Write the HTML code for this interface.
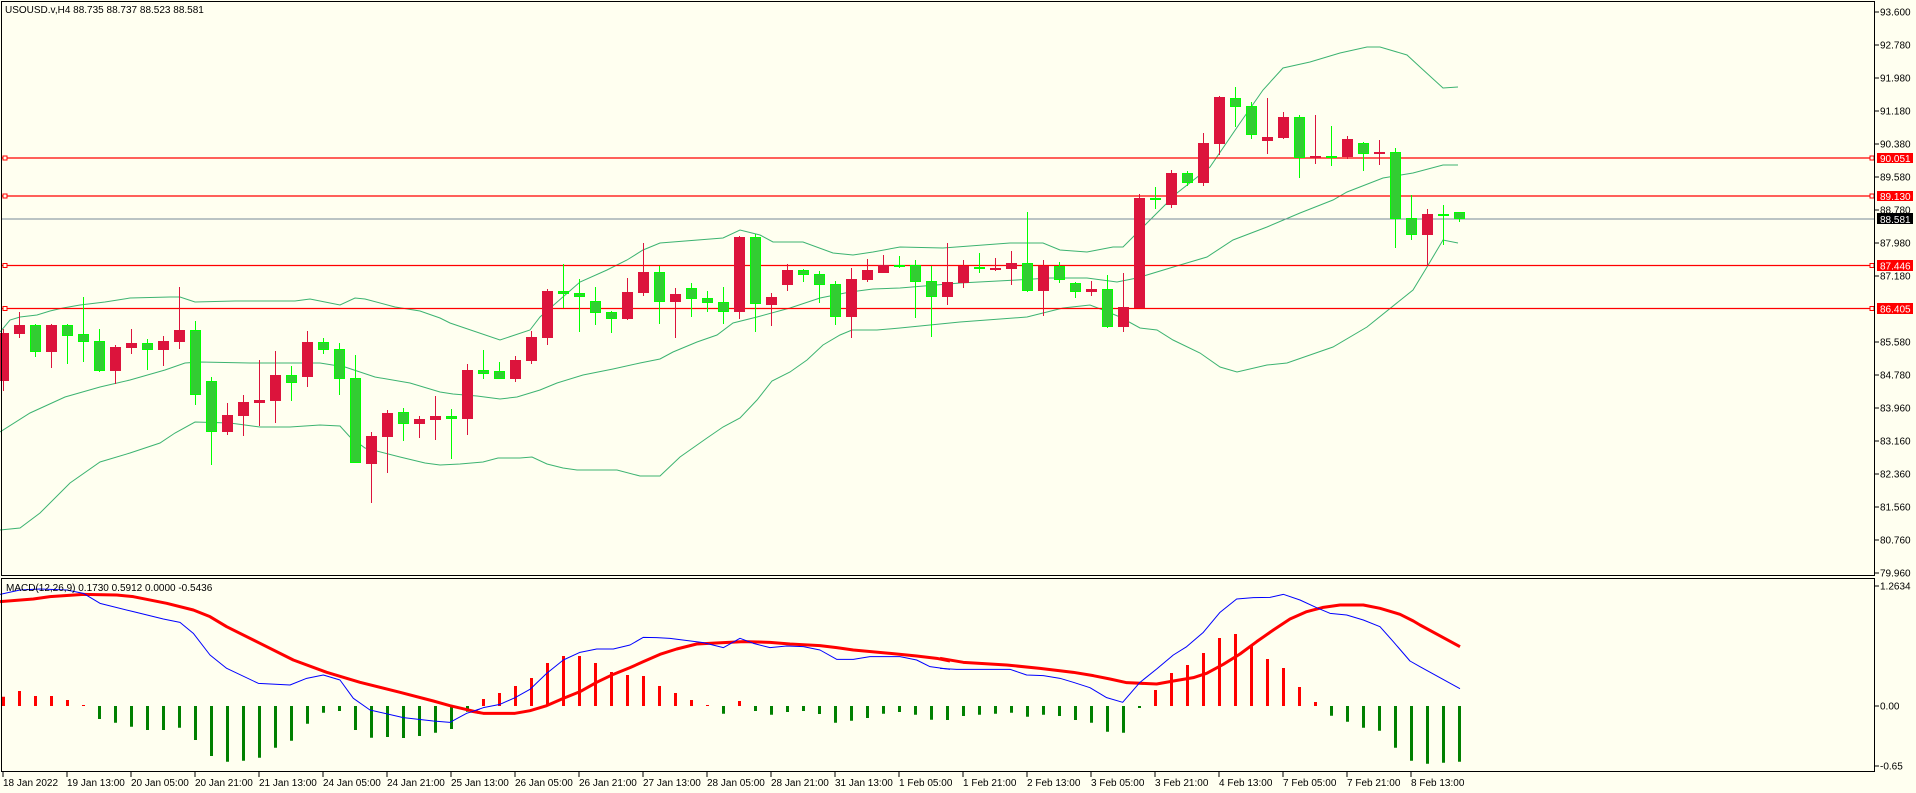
<!DOCTYPE html>
<html><head><meta charset="utf-8"><style>
html,body{margin:0;padding:0;background:#FFFFF0;}
svg{display:block;font-family:"Liberation Sans",sans-serif;}
</style></head><body>
<svg width="1916" height="793" viewBox="0 0 1916 793" xmlns="http://www.w3.org/2000/svg">
<rect width="1916" height="793" fill="#FFFFF0"/>
<!-- Bollinger -->
<g fill="none" stroke="#3CB371" stroke-width="1">
<polyline points="0,332 10,320 20,317 37,315 50,311 63,308 80,305 105,302 130,298 170,297 180,297 195,302 235,301 295,301 310,299 325,302 340,305 355,298 365,299 395,307 420,311 440,318 450,323 500,340 530,330 540,317 580,282 607,270 627,260 643,250 660,243 723,238 740,230 760,235 773,242 803,242 833,253 853,255 873,252 900,247 943,248 1010,243 1043,243 1060,250 1087,252 1113,247 1123,247 1143,227 1177,193 1210,167 1240,123 1263,90 1283,68 1310,62 1340,53 1367,47 1380,47 1407,55 1420,67 1443,88 1458,87"/>
<polyline points="0,432 30,413 65,397 100,387 130,380 165,370 185,363 200,362 250,363 320,363 345,367 375,377 410,383 440,392 453,394 477,396 500,399 517,397 540,390 557,383 583,375 613,369 640,363 660,359 673,352 697,342 717,335 733,323 757,317 790,308 820,298 850,292 873,289 900,288 960,283 1017,280 1050,278 1087,278 1117,282 1137,278 1180,265 1207,257 1233,240 1267,227 1300,213 1333,200 1347,192 1383,178 1413,173 1443,165 1458,165"/>
<polyline points="0,530 20,528 40,513 70,483 100,462 130,453 160,443 175,433 195,422 230,423 260,427 290,427 320,425 340,426 350,437 365,448 400,457 425,463 440,465 460,464 483,462 498,458 520,458 532,457 547,464 563,468 577,470 617,470 640,476 660,476 680,457 707,438 723,427 740,418 757,400 772,381 790,372 807,360 823,345 840,335 852,330 877,330 900,328 960,322 1027,317 1063,308 1090,305 1103,310 1120,317 1140,328 1157,330 1173,340 1200,353 1220,367 1237,372 1267,365 1287,363 1333,347 1367,327 1413,290 1427,267 1443,240 1458,243"/>
</g>
<!-- horizontal lines -->
<g stroke="#FF0000" stroke-width="1.3">
<line x1="2" y1="158" x2="1875" y2="158"/><line x1="2" y1="196" x2="1875" y2="196"/>
<line x1="2" y1="265.5" x2="1875" y2="265.5"/><line x1="2" y1="308.5" x2="1875" y2="308.5"/>
</g>
<line x1="2" y1="219" x2="1875" y2="219" stroke="#778899" stroke-width="1"/>
<g fill="#FFFFF0" stroke="#FF0000" stroke-width="1">
<rect x="3" y="156" width="4" height="4"/><rect x="3" y="194" width="4" height="4"/><rect x="3" y="263.5" width="4" height="4"/><rect x="3" y="306.5" width="4" height="4"/>
<rect x="1870" y="156" width="4" height="4"/><rect x="1870" y="194" width="4" height="4"/><rect x="1870" y="263.5" width="4" height="4"/><rect x="1870" y="306.5" width="4" height="4"/>
</g>
<!-- candles -->
<g id="c">
<g stroke="#DC143C" stroke-width="1">
<path d="M3.5 329V391M19.5 312V338M51.5 324V368M115.5 345V384M131.5 329V354M163.5 336V366M179.5 287V349M227.5 403V435M243.5 395V436M259.5 360V426M275.5 351V423M307.5 331V387M371.5 432V503M387.5 410V473M419.5 416V438M435.5 396V440M467.5 364V435M515.5 356V382M531.5 331V364M547.5 289V345M627.5 278V320M643.5 243V296M675.5 288V338M739.5 236V319M771.5 293V326M787.5 264V291M851.5 268V338M867.5 259V282M883.5 255V273M947.5 243V305M963.5 260V288M995.5 258V271M1011.5 251V285M1043.5 260V316M1091.5 281V296M1123.5 273V332M1139.5 194V308M1171.5 170V208M1203.5 133V186M1219.5 96V155M1267.5 98V154M1283.5 112V139M1315.5 115V164M1347.5 136V159M1379.5 140V165M1427.5 209V266"/>
</g>
<g stroke="#00FF00" stroke-width="1">
<path d="M35.5 324V357M67.5 324V364M83.5 297V362M99.5 329V372M147.5 339V370M195.5 321V405M211.5 377V465M291.5 366V401M323.5 338V354M339.5 343V395M355.5 355V463M403.5 408V441M451.5 409V459M483.5 350V379M499.5 362V379M563.5 264V308M579.5 279V332M595.5 287V325M611.5 311V333M659.5 266V324M691.5 283V317M707.5 291V312M723.5 287V324M755.5 234V332M803.5 269V282M819.5 271V303M835.5 281V325M899.5 256V268M915.5 260V318M931.5 266V337M979.5 253V273M1027.5 212V292M1059.5 262V283M1075.5 282V298M1107.5 275V328M1155.5 187V209M1187.5 171V186M1235.5 87V127M1251.5 102V139M1299.5 115V178M1331.5 126V166M1363.5 142V171M1395.5 148V248M1411.5 195V240M1443.5 205V245M1459.5 212V222"/>
</g>
<g fill="#DC143C">
<rect x="-2" y="333" width="11" height="48"/><rect x="14" y="325" width="11" height="9"/><rect x="46" y="325" width="11" height="27"/><rect x="110" y="347" width="11" height="24"/><rect x="126" y="343" width="11" height="5"/><rect x="158" y="341" width="11" height="9"/><rect x="174" y="330" width="11" height="12"/><rect x="222" y="415" width="11" height="17"/><rect x="238" y="402" width="11" height="14"/><rect x="254" y="400" width="11" height="3"/><rect x="270" y="375" width="11" height="26"/><rect x="302" y="342" width="11" height="35"/><rect x="366" y="436" width="11" height="28"/><rect x="382" y="413" width="11" height="24"/><rect x="414" y="419" width="11" height="5"/><rect x="430" y="416" width="11" height="4"/><rect x="462" y="370" width="11" height="49"/><rect x="510" y="360" width="11" height="19"/><rect x="526" y="337" width="11" height="24"/><rect x="542" y="291" width="11" height="47"/><rect x="622" y="292" width="11" height="27"/><rect x="638" y="272" width="11" height="21"/><rect x="670" y="294" width="11" height="8"/><rect x="734" y="237" width="11" height="75"/><rect x="766" y="297" width="11" height="8"/><rect x="782" y="270" width="11" height="15"/><rect x="846" y="279" width="11" height="38"/><rect x="862" y="270" width="11" height="10"/><rect x="878" y="265" width="11" height="8"/><rect x="942" y="282" width="11" height="15"/><rect x="958" y="266" width="11" height="17"/><rect x="990" y="268" width="11" height="2"/><rect x="1006" y="263" width="11" height="6"/><rect x="1038" y="266" width="11" height="25"/><rect x="1086" y="289" width="11" height="3"/><rect x="1118" y="307" width="11" height="20"/><rect x="1134" y="198" width="11" height="110"/><rect x="1166" y="173" width="11" height="32"/><rect x="1198" y="143" width="11" height="40"/><rect x="1214" y="97" width="11" height="47"/><rect x="1262" y="137" width="11" height="4"/><rect x="1278" y="117" width="11" height="21"/><rect x="1310" y="156" width="11" height="2"/><rect x="1342" y="139" width="11" height="18"/><rect x="1374" y="152" width="11" height="2"/><rect x="1422" y="214" width="11" height="21"/>
</g>
<g fill="#32CD32" stroke="#00FF00" stroke-width="1">
<rect x="30.5" y="325.5" width="10" height="26"/><rect x="62.5" y="325.5" width="10" height="10"/><rect x="78.5" y="334.5" width="10" height="7"/><rect x="94.5" y="341.5" width="10" height="29"/><rect x="142.5" y="343.5" width="10" height="6"/><rect x="190.5" y="330.5" width="10" height="64"/><rect x="206.5" y="381.5" width="10" height="50"/><rect x="286.5" y="375.5" width="10" height="7"/><rect x="318.5" y="342.5" width="10" height="7"/><rect x="334.5" y="349.5" width="10" height="29"/><rect x="350.5" y="378.5" width="10" height="84"/><rect x="398.5" y="412.5" width="10" height="11"/><rect x="446.5" y="416.5" width="10" height="2"/><rect x="478.5" y="370.5" width="10" height="3"/><rect x="494.5" y="371.5" width="10" height="7"/><rect x="558.5" y="291.5" width="10" height="2"/><rect x="574.5" y="293.5" width="10" height="3"/><rect x="590.5" y="301.5" width="10" height="11"/><rect x="606.5" y="312.5" width="10" height="6"/><rect x="654.5" y="272.5" width="10" height="29"/><rect x="686.5" y="288.5" width="10" height="10"/><rect x="702.5" y="298.5" width="10" height="4"/><rect x="718.5" y="302.5" width="10" height="9"/><rect x="750.5" y="237.5" width="10" height="66"/><rect x="798.5" y="270.5" width="10" height="4"/><rect x="814.5" y="274.5" width="10" height="10"/><rect x="830.5" y="284.5" width="10" height="32"/><rect x="894.5" y="265.5" width="10" height="1"/><rect x="910.5" y="265.5" width="10" height="16"/><rect x="926.5" y="281.5" width="10" height="15"/><rect x="974.5" y="267.5" width="10" height="1"/><rect x="1022.5" y="263.5" width="10" height="27"/><rect x="1054.5" y="266.5" width="10" height="13"/><rect x="1070.5" y="283.5" width="10" height="8"/><rect x="1102.5" y="289.5" width="10" height="37"/><rect x="1150.5" y="198.5" width="10" height="1"/><rect x="1182.5" y="173.5" width="10" height="9"/><rect x="1230.5" y="98.5" width="10" height="8"/><rect x="1246.5" y="106.5" width="10" height="28"/><rect x="1294.5" y="117.5" width="10" height="40"/><rect x="1326.5" y="156.5" width="10" height="1"/><rect x="1358.5" y="143.5" width="10" height="10"/><rect x="1390.5" y="152.5" width="10" height="66"/><rect x="1406.5" y="218.5" width="10" height="16"/><rect x="1438.5" y="214.5" width="10" height="1"/><rect x="1454.5" y="212.5" width="10" height="6"/>
</g>
</g>
<!-- MACD histogram -->
<path stroke="#FF0000" stroke-width="3" fill="none" d="M3.5 706V696.7M19.5 706V691M35.5 706V696M51.5 706V696M67.5 706V700M83.5 706V705M483.5 706V699M499.5 706V693M515.5 706V686M531.5 706V678M547.5 706V663M563.5 706V656M579.5 706V656M595.5 706V663M611.5 706V672M627.5 706V675M643.5 706V676M659.5 706V686M675.5 706V693M691.5 706V700M707.5 706V705M739.5 706V701M1155.5 706V690M1171.5 706V673M1187.5 706V665M1203.5 706V653M1219.5 706V638M1235.5 706V634M1251.5 706V645M1267.5 706V659M1283.5 706V668M1299.5 706V687M1315.5 706V702"/>
<path stroke="#008000" stroke-width="3" fill="none" d="M99.5 706V719M115.5 706V722.7M131.5 706V726.7M147.5 706V730M163.5 706V730M179.5 706V727.7M195.5 706V740M211.5 706V756M227.5 706V761.7M243.5 706V760.7M259.5 706V757.7M275.5 706V747.7M291.5 706V740.7M307.5 706V723.7M323.5 706V712.7M339.5 706V711M355.5 706V730M371.5 706V737.7M387.5 706V737M403.5 706V738M419.5 706V736M435.5 706V732.7M451.5 706V729M467.5 706V711.7M723.5 706V713.7M755.5 706V711M771.5 706V714.7M787.5 706V712M803.5 706V711M819.5 706V714M835.5 706V722.7M851.5 706V720.7M867.5 706V718M883.5 706V713.7M899.5 706V712M915.5 706V714.7M931.5 706V719.7M947.5 706V720M963.5 706V716M979.5 706V714.7M995.5 706V713.7M1011.5 706V712.7M1027.5 706V716.7M1043.5 706V714.7M1059.5 706V716M1075.5 706V720M1091.5 706V722.7M1107.5 706V731.7M1123.5 706V732.7M1139.5 706V708M1331.5 706V715.7M1347.5 706V721.7M1363.5 706V727.7M1379.5 706V730.7M1395.5 706V747.7M1411.5 706V760.7M1427.5 706V763.7M1443.5 706V762.7M1459.5 706V761.7"/>
<!-- MACD lines -->
<g fill="none" stroke-linejoin="round">
<g transform="translate(0,575) scale(0.33333)">
<polyline vector-effect="non-scaling-stroke" stroke="#FF0000" stroke-width="3" points="0,80 100,72 150,65 250,58 350,60 400,65 500,85 580,105 630,125 680,155 780,205 880,255 980,292 1080,322 1200,352 1300,378 1350,392 1440,413"/>
<polyline vector-effect="non-scaling-stroke" stroke="#0000FF" stroke-width="1" points="0,58 60,45 120,42 200,45 250,55 300,85 400,110 490,132 540,142 580,175 630,240 680,280 775,325 870,330 920,310 970,300 1020,315 1060,370 1110,405 1210,428 1300,438 1350,442 1400,415 1440,402"/>
</g>
<g transform="translate(470,575) scale(0.33333)">
<polyline vector-effect="non-scaling-stroke" stroke="#FF0000" stroke-width="3" points="0,408 40,415 135,415 180,407 230,392 280,370 330,350 380,322 430,298 480,278 520,260 570,238 620,222 680,207 760,203 820,200 900,202 960,207 1050,212 1100,218 1150,225 1280,237 1340,243 1400,250 1440,258"/>
<polyline vector-effect="non-scaling-stroke" stroke="#0000FF" stroke-width="1" points="0,412 40,398 90,388 135,368 180,343 230,295 280,255 330,232 380,222 430,222 480,210 520,187 560,188 600,190 700,203 760,218 810,190 850,205 900,218 950,213 1000,215 1050,225 1100,253 1150,253 1200,245 1290,245 1340,255 1380,275 1440,283"/>
</g>
<g transform="translate(940,575) scale(0.33333)">
<polyline vector-effect="non-scaling-stroke" stroke="#FF0000" stroke-width="3" points="0,250 70,262 200,270 300,280 400,292 460,302 510,312 560,323 650,327 700,318 760,308 800,295 850,268 900,237 950,200 1000,165 1050,132 1100,110 1150,97 1200,90 1270,90 1320,100 1380,118 1420,138 1440,150 1560,215"/>
<polyline vector-effect="non-scaling-stroke" stroke="#0000FF" stroke-width="1" points="0,280 50,283 210,283 260,300 310,302 360,310 400,322 450,338 500,368 548,382 600,322 650,282 700,240 740,215 790,172 840,112 890,72 940,68 990,67 1030,58 1080,75 1130,98 1170,115 1220,120 1270,135 1320,155 1360,200 1410,258 1440,275 1560,341"/>
</g>
</g>
<!-- frames -->
<g fill="none" stroke="#000" stroke-width="1">
<rect x="1.5" y="1.5" width="1873" height="574"/>
<rect x="1.5" y="578.5" width="1873" height="193"/>
</g>
<text x="5" y="13" font-size="10" fill="#000">USOUSD.v,H4  88.735 88.737 88.523 88.581</text>
<text x="6" y="591" font-size="10" fill="#000">MACD(12,26,9) 0.1730 0.5912 0.0000 -0.5436</text>
<!-- price axis -->
<g stroke="#000" stroke-width="1">
<path d="M1875 12H1879M1875 45H1879M1875 78H1879M1875 111H1879M1875 144H1879M1875 177H1879M1875 210H1879M1875 243H1879M1875 276H1879M1875 342H1879M1875 375H1879M1875 408H1879M1875 441H1879M1875 474H1879M1875 507H1879M1875 540H1879M1875 573H1879M1875 586H1879M1875 706H1879M1875 766H1879"/>
</g>
<g font-size="10" fill="#000">
<text x="1880" y="15.5">93.600</text><text x="1880" y="48.5">92.780</text><text x="1880" y="81.5">91.980</text><text x="1880" y="114.5">91.180</text><text x="1880" y="147.5">90.380</text><text x="1880" y="180.5">89.580</text><text x="1880" y="213.5">88.780</text><text x="1880" y="246.5">87.980</text><text x="1880" y="279.5">87.180</text><text x="1880" y="345.5">85.580</text><text x="1880" y="378.5">84.780</text><text x="1880" y="411.5">83.960</text><text x="1880" y="444.5">83.160</text><text x="1880" y="477.5">82.360</text><text x="1880" y="510.5">81.560</text><text x="1880" y="543.5">80.760</text><text x="1880" y="576.5">79.960</text>
<text x="1880" y="589.5">1.2634</text><text x="1880" y="709.5">0.00</text><text x="1880" y="769.5">-0.65</text>
</g>
<g fill="#FF0000"><rect x="1877" y="153" width="36" height="10"/><rect x="1877" y="191" width="36" height="10"/><rect x="1877" y="260" width="36" height="11"/><rect x="1877" y="303" width="36" height="11"/></g>
<rect x="1877" y="213" width="36" height="11" fill="#000"/>
<g font-size="10" fill="#FFF">
<text x="1880" y="162">90.051</text><text x="1880" y="200">89.130</text><text x="1880" y="223">88.581</text><text x="1880" y="269.5">87.446</text><text x="1880" y="312.5">86.405</text>
</g>
<!-- time axis -->
<g stroke="#000" stroke-width="1">
<path d="M3 772V777M67 772V777M131 772V777M195 772V777M259 772V777M323 772V777M387 772V777M451 772V777M515 772V777M579 772V777M643 772V777M707 772V777M771 772V777M835 772V777M899 772V777M963 772V777M1027 772V777M1091 772V777M1155 772V777M1219 772V777M1283 772V777M1347 772V777M1411 772V777"/>
</g>
<g font-size="10" fill="#000">
<text x="3" y="786">18 Jan 2022</text><text x="67" y="786">19 Jan 13:00</text><text x="131" y="786">20 Jan 05:00</text><text x="195" y="786">20 Jan 21:00</text><text x="259" y="786">21 Jan 13:00</text><text x="323" y="786">24 Jan 05:00</text><text x="387" y="786">24 Jan 21:00</text><text x="451" y="786">25 Jan 13:00</text><text x="515" y="786">26 Jan 05:00</text><text x="579" y="786">26 Jan 21:00</text><text x="643" y="786">27 Jan 13:00</text><text x="707" y="786">28 Jan 05:00</text><text x="771" y="786">28 Jan 21:00</text><text x="835" y="786">31 Jan 13:00</text><text x="899" y="786">1 Feb 05:00</text><text x="963" y="786">1 Feb 21:00</text><text x="1027" y="786">2 Feb 13:00</text><text x="1091" y="786">3 Feb 05:00</text><text x="1155" y="786">3 Feb 21:00</text><text x="1219" y="786">4 Feb 13:00</text><text x="1283" y="786">7 Feb 05:00</text><text x="1347" y="786">7 Feb 21:00</text><text x="1411" y="786">8 Feb 13:00</text>
</g>
</svg>
</body></html>
